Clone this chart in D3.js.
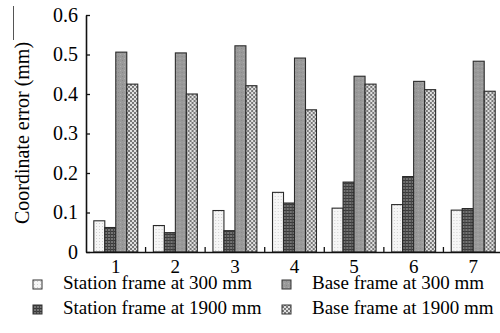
<!DOCTYPE html>
<html>
<head>
<meta charset="utf-8">
<script src="https://cdn.jsdelivr.net/npm/d3@7"></script>
<style>
  body { margin: 0; background: #fff; }
  svg text { font-family: "Liberation Serif", "Times New Roman", serif; fill: #000; }
</style>
</head>
<body>
<svg id="chart" width="500" height="333"></svg>
<script>
const groups = ["1", "2", "3", "4", "5", "6", "7"];
const seriesNames = ["Station frame at 300 mm", "Station frame at 1900 mm", "Base frame at 300 mm", "Base frame at 1900 mm"];
const station300 = [0.079, 0.067, 0.105, 0.151, 0.111, 0.120, 0.106];
const station1900 = [0.062, 0.049, 0.054, 0.124, 0.177, 0.191, 0.110];
const base300 = [0.506, 0.504, 0.522, 0.491, 0.445, 0.432, 0.483];
const base1900 = [0.425, 0.400, 0.421, 0.360, 0.425, 0.411, 0.407];
const yTicks = [0, 0.1, 0.2, 0.3, 0.4, 0.5, 0.6];

const seriesValues = [station300, station1900, base300, base1900];
const patternIds = ["p-s300", "p-s1900", "p-b300", "p-b1900"];

const svg = d3.select("#chart");
const defs = svg.append("defs");

// light stipple
let p = defs.append("pattern").attr("id", "p-s300").attr("patternUnits", "userSpaceOnUse")
  .attr("width", 3).attr("height", 3);
p.append("rect").attr("width", 3).attr("height", 3).attr("fill", "#f6f6f6");
p.append("rect").attr("x", 1).attr("y", 1).attr("width", 1).attr("height", 1).attr("fill", "#d0d0d0");

// dark grid
p = defs.append("pattern").attr("id", "p-s1900").attr("patternUnits", "userSpaceOnUse")
  .attr("width", 3).attr("height", 3);
p.append("rect").attr("width", 3).attr("height", 3).attr("fill", "#747474");
p.append("rect").attr("width", 3).attr("height", 1).attr("fill", "#383838");
p.append("rect").attr("width", 1).attr("height", 3).attr("fill", "#444");

// medium grey
p = defs.append("pattern").attr("id", "p-b300").attr("patternUnits", "userSpaceOnUse")
  .attr("width", 4).attr("height", 4);
p.append("rect").attr("width", 4).attr("height", 4).attr("fill", "#9a9a9a");
p.append("rect").attr("x", 0).attr("y", 0).attr("width", 1).attr("height", 1).attr("fill", "#888");
p.append("rect").attr("x", 2).attr("y", 2).attr("width", 1).attr("height", 1).attr("fill", "#aeaeae");

// checker
p = defs.append("pattern").attr("id", "p-b1900").attr("patternUnits", "userSpaceOnUse")
  .attr("width", 4).attr("height", 4);
p.append("rect").attr("width", 4).attr("height", 4).attr("fill", "#e0e0e0");
p.append("rect").attr("width", 2).attr("height", 2).attr("fill", "#787878");
p.append("rect").attr("x", 2).attr("y", 2).attr("width", 2).attr("height", 2).attr("fill", "#787878");

const x0 = d3.scaleBand().domain(groups).range([86, 503]).paddingInner(0).paddingOuter(0);
const x1 = d3.scaleBand().domain(d3.range(4)).range([0, x0.bandwidth()]).paddingInner(0).paddingOuter(0.71);
const y = d3.scaleLinear().domain([0, 0.6]).range([252, 15]);

// bars
const grp = svg.append("g").selectAll("g")
  .data(groups)
  .join("g")
  .attr("transform", d => "translate(" + x0(d) + ",0)");

grp.selectAll("rect")
  .data((g, gi) => seriesValues.map((vals, si) => ({ si: si, value: vals[gi] })))
  .join("rect")
  .attr("x", d => x1(d.si))
  .attr("y", d => y(d.value))
  .attr("width", x1.bandwidth())
  .attr("height", d => y(0) - y(d.value))
  .attr("fill", d => "url(#" + patternIds[d.si] + ")")
  .attr("stroke", "#2a2a2a")
  .attr("stroke-width", 1.1);

// y axis
const yAxis = svg.append("g")
  .attr("transform", "translate(86,0)")
  .call(d3.axisLeft(y).tickValues(yTicks).tickSizeInner(-4).tickSizeOuter(0).tickPadding(8)
    .tickFormat(d => d === 0 ? "0" : d.toFixed(1)));
yAxis.select(".domain").attr("stroke", "#111").attr("stroke-width", 1.6);
yAxis.selectAll(".tick line").attr("stroke", "#111").attr("stroke-width", 1.3);
yAxis.selectAll("text").attr("font-size", 20);

// x axis
const xAxis = svg.append("g")
  .attr("transform", "translate(0,252)")
  .call(d3.axisBottom(x0).tickSize(0).tickPadding(8));
xAxis.select(".domain").attr("stroke", "#111").attr("stroke-width", 1.6);
xAxis.selectAll("text").attr("font-size", 19);

// group separator ticks
svg.append("g").selectAll("line")
  .data(groups.slice(1))
  .join("line")
  .attr("x1", d => x0(d)).attr("x2", d => x0(d))
  .attr("y1", 252).attr("y2", 247)
  .attr("stroke", "#111").attr("stroke-width", 1.3);

// y label
svg.append("text")
  .attr("transform", "translate(29,133) rotate(-90)")
  .attr("text-anchor", "middle")
  .attr("font-size", 20)
  .text("Coordinate error (mm)");

svg.append("line")
  .attr("x1", 13.5).attr("x2", 13.5).attr("y1", 6).attr("y2", 40)
  .attr("stroke", "#555").attr("stroke-width", 1);

// legend
const legendPos = [[33, 289], [33, 314], [282, 289], [282, 314]];
const legend = svg.append("g").selectAll("g")
  .data(seriesNames)
  .join("g")
  .attr("transform", (d, i) => "translate(" + legendPos[i][0] + "," + legendPos[i][1] + ")");

legend.append("rect")
  .attr("x", 0).attr("y", -9)
  .attr("width", 9).attr("height", 9)
  .attr("fill", (d, i) => "url(#" + patternIds[i] + ")")
  .attr("stroke", "#333").attr("stroke-width", 1);

legend.append("text")
  .attr("x", 30)
  .attr("font-size", 19)
  .text(d => d);
</script>
</body>
</html>
